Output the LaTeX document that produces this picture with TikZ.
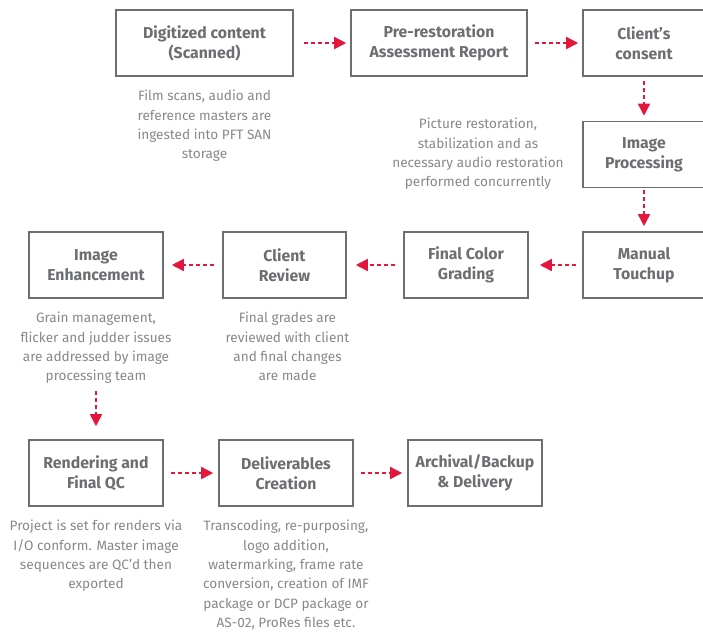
\documentclass[tikz,border=0pt]{standalone}
\usepackage{fontspec}
\setmainfont{Fira Sans}
\usetikzlibrary{arrows.meta,positioning}
\definecolor{boxgray}{HTML}{6D6E71}
\definecolor{notegray}{HTML}{87888B}
\definecolor{flowred}{HTML}{E3173E}

\tikzset{
  stage/.style={draw=boxgray, line width=1.6pt, text=boxgray,
    font=\fontsize{15.8}{19.8}\selectfont\bfseries, align=center,
    minimum height=66pt, inner sep=2pt},
  note/.style={text=notegray, font=\fontsize{13.6}{19.4}\selectfont,
    align=center, inner sep=0pt},
  flow/.style={draw=flowred, line width=1.6pt, dash pattern=on 4pt off 3pt,
    -{Triangle[length=12pt,width=12pt]}}
}

\begin{document}
\begin{tikzpicture}[x=1pt,y=-1pt]
	\useasboundingbox (0,0) rectangle (703,633);
	% top row
	\node[stage, minimum width=177pt] (dig) at (204.5,43) {Digitized content\\(Scanned)};
	\node[stage, minimum width=176pt] (pre) at (439,43) {Pre-restoration\\Assessment Report};
	\node[stage, minimum width=122pt] (consent) at (644,43) {Client's\\consent};
	\node[stage, minimum width=122pt] (proc) at (644,154.5) {Image\\Processing};
	\node[note, below=13pt of dig] (dignote) {Film scans, audio and\\reference masters are\\ingested into PFT SAN\\storage};
	\node[note] (procnote) at (478,154) {Picture restoration,\\stabilization and as\\necessary audio restoration\\performed concurrently};
	% middle row
	\node[stage, minimum width=122pt] (touch) at (644,265) {Manual\\Touchup};
	\node[stage, minimum width=124pt] (grade) at (466,265) {Final Color\\Grading};
	\node[stage, minimum width=123pt] (review) at (284.5,265) {Client\\Review};
	\node[stage, minimum width=134pt] (enh) at (96,265) {Image\\Enhancement};
	\node[note, below=13pt of enh] (enhnote) {Grain management,\\flicker and judder issues\\are addressed by image\\processing team};
	\node[note, below=13pt of review, xshift=3pt] (reviewnote) {Final grades are\\reviewed with client\\and final changes\\are made};
	% bottom row
	\node[stage, minimum width=134pt] (render) at (96,473) {Rendering and\\Final QC};
	\node[stage, minimum width=134pt] (deliv) at (286,473) {Deliverables\\Creation};
	\node[stage, minimum width=134pt] (arch) at (475,473) {Archival/Backup\\\& Delivery};
	\node[note, below=13pt of render] (rendnote) {Project is set for renders via\\I/O conform. Master image\\sequences are QC'd then\\exported};
	\node[note, below=13pt of deliv] (delivnote) {Transcoding, re-purposing,\\logo addition,\\watermarking, frame rate\\conversion, creation of IMF\\package or DCP package or\\AS-02, ProRes files etc.};
	% connectors
	\draw[flow, shorten <=10pt, shorten >=4pt] (dig) -- (pre);
	\draw[flow, shorten <=7pt, shorten >=4pt] (pre) -- (consent);
	\draw[flow, shorten <=4pt, shorten >=5pt] (consent) -- (proc);
	\draw[flow, shorten <=2pt, shorten >=5pt] (proc) -- (touch);
	\draw[flow, shorten <=6pt, shorten >=11pt] (touch) -- (grade);
	\draw[flow, shorten <=8pt, shorten >=9pt] (grade) -- (review);
	\draw[flow, shorten <=8pt, shorten >=8pt] (review) -- (enh);
	\draw[flow, shorten <=7pt, shorten >=13pt] (enhnote.south -| render.north) -- (render.north);
	\draw[flow, shorten <=7pt, shorten >=5pt] (render) -- (deliv);
	\draw[flow, shorten <=7pt, shorten >=5pt] (deliv) -- (arch);
\end{tikzpicture}
\end{document}
